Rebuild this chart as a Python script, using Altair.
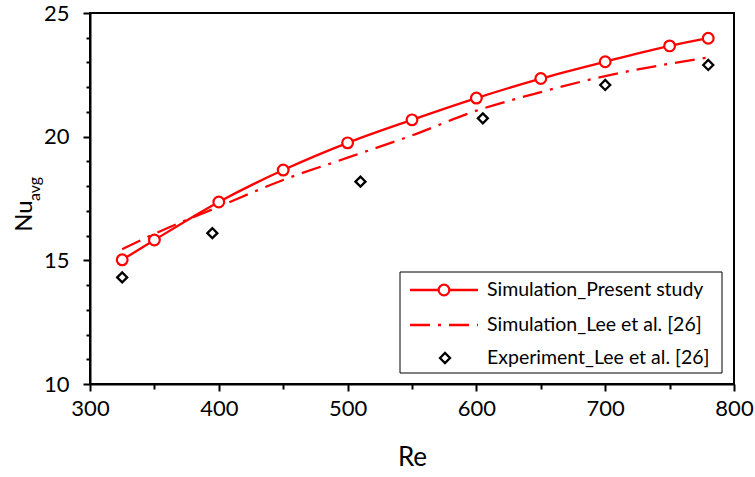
import altair as alt
import pandas as pd

# ---- data ----
re_sim = [325, 350, 400, 450, 500, 550, 600, 650, 700, 750, 780]
nu_present = [15.02, 15.82, 17.36, 18.65, 19.75, 20.68, 21.56, 22.35, 23.03, 23.67, 23.98]
nu_lee_sim = [15.45, 16.07, 17.17, 18.25, 19.15, 20.05, 21.05, 21.8, 22.45, 22.95, 23.2]
re_exp = [325, 395, 510, 605, 700, 780]
nu_exp = [14.31, 16.1, 18.18, 20.74, 22.09, 22.9]
legend_labels = ["Simulation_Present study", "Simulation_Lee et al. [26]", "Experiment_Lee et al. [26]"]
x_ticks = list(range(300, 801, 50))
y_ticks = list(range(10, 26))
x_title = "Re"
y_title_main = "Nu"
y_title_sub = "avg"

FONT = "Lato"
RED = "#ff0000"

df_present = pd.DataFrame({"Re": re_sim, "Nu": nu_present})
df_lee = pd.DataFrame({"Re": re_sim, "Nu": nu_lee_sim})
df_exp = pd.DataFrame({"Re": re_exp, "Nu": nu_exp})
one = pd.DataFrame({"k": [0]})

x_enc = alt.X(
    "Re:Q",
    scale=alt.Scale(domain=[300, 800], nice=False, zero=False),
    axis=alt.Axis(
        values=x_ticks,
        labelExpr="datum.value % 100 === 0 ? datum.label : ''",
        tickSize={"condition": {"test": "datum.value % 100 === 0", "value": 7}, "value": 5},
        tickWidth=2, tickColor="black",
        domainColor="black", domainWidth=2,
        labelFont=FONT, labelFontSize=22, labelColor="black", labelPadding=7,
        labelFlush=False, labelOverlap=False,
        grid=False,
        title=x_title, titleFont=FONT, titleFontSize=26, titleFontWeight="normal",
        titleColor="black", titleY=81, titleBaseline="alphabetic",
    ),
)
y_enc = alt.Y(
    "Nu:Q",
    scale=alt.Scale(domain=[10, 25], nice=False, zero=False),
    axis=alt.Axis(
        values=y_ticks,
        labelExpr="datum.value % 5 === 0 ? datum.label : ''",
        tickSize={"condition": {"test": "datum.value % 5 === 0", "value": 7}, "value": 4},
        tickWidth=2, tickColor="black",
        domainColor="black", domainWidth=2,
        labelFont=FONT, labelFontSize=22, labelColor="black", labelPadding=14,
        labelFlush=False, labelOverlap=False,
        grid=False, title=None,
    ),
)

present_line = alt.Chart(df_present).mark_line(
    color=RED, strokeWidth=2.3, interpolate="monotone"
).encode(x=x_enc, y=y_enc)
present_pts = alt.Chart(df_present).mark_point(
    shape="circle", filled=True, fill="white", stroke=RED, strokeWidth=2.2, size=115, opacity=1
).encode(x=x_enc, y=y_enc)
lee_line = alt.Chart(df_lee).mark_line(
    color=RED, strokeWidth=2.3, interpolate="monotone", strokeDash=[20, 8, 3, 8]
).encode(x=x_enc, y=y_enc)
exp_pts = alt.Chart(df_exp).mark_point(
    shape="diamond", filled=True, fill="white", stroke="black", strokeWidth=2.3, size=100, opacity=1
).encode(x=x_enc, y=y_enc)

# ---- legend (drawn) ----
leg_box = alt.Chart(one).mark_rect(fill="white", stroke="black", strokeWidth=1).encode(
    x=alt.value(310), x2=alt.value(632), y=alt.value(259), y2=alt.value(360)
)
leg_l1 = alt.Chart(one).mark_rule(color=RED, strokeWidth=2.3).encode(
    x=alt.value(320), x2=alt.value(388), y=alt.value(277)
)
leg_p1 = alt.Chart(one).mark_point(
    shape="circle", filled=True, fill="white", stroke=RED, strokeWidth=2.2, size=115, opacity=1
).encode(x=alt.value(354), y=alt.value(277))
leg_l2 = alt.Chart(one).mark_rule(color=RED, strokeWidth=2.3, strokeDash=[20, 8, 3, 8]).encode(
    x=alt.value(320), x2=alt.value(388), y=alt.value(312)
)
leg_p3 = alt.Chart(one).mark_point(
    shape="diamond", filled=True, fill="white", stroke="black", strokeWidth=2.3, size=100, opacity=1
).encode(x=alt.value(355), y=alt.value(345))

def leg_text(label, y):
    return alt.Chart(one).mark_text(
        font=FONT, fontSize=19.5, color="black", align="left", baseline="middle"
    ).encode(x=alt.value(397), y=alt.value(y), text=alt.value(label))

leg_t = [leg_text(legend_labels[0], 277), leg_text(legend_labels[1], 312), leg_text(legend_labels[2], 345)]

# ---- y axis title with subscript ----
ytitle_main = alt.Chart(one).mark_text(
    font=FONT, fontSize=24, color="black", align="center", baseline="middle", angle=270
).encode(x=alt.value(-65), y=alt.value(203), text=alt.value(y_title_main))
ytitle_sub = alt.Chart(one).mark_text(
    font=FONT, fontSize=16, color="black", align="center", baseline="middle", angle=270
).encode(x=alt.value(-55), y=alt.value(176), text=alt.value(y_title_sub))

chart = alt.layer(
    lee_line, present_line, present_pts, exp_pts,
    leg_box, leg_l1, leg_p1, leg_l2, leg_p3, *leg_t,
    ytitle_main, ytitle_sub,
).properties(
    width=644, height=371,
    autosize=alt.AutoSizeParams(type="none"),
    padding={"left": 90, "top": 13, "right": 21, "bottom": 93},
    background="white",
).configure_view(stroke="black", strokeWidth=2)

chart.save("out.html", embed_options={"renderer": "svg", "actions": False})
